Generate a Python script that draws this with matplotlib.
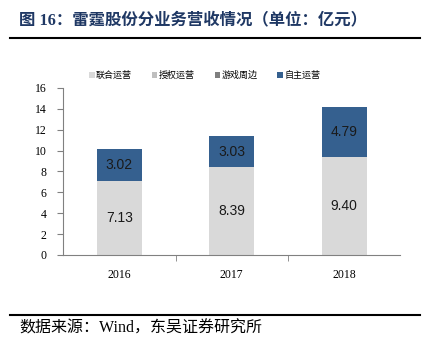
import matplotlib
matplotlib.use("Agg")
import matplotlib.pyplot as plt
import numpy as np

# data
years = ["2016", "2017", "2018"]
lianhe = [7.13, 8.39, 9.40]     # 联合运营
shouquan = [0.0, 0.0, 0.0]      # 授权运营
youxi = [0.0, 0.0, 0.0]         # 游戏周边
zizhu = [3.02, 3.03, 4.79]      # 自主运营
series_names = ["联合运营", "授权运营", "游戏周边", "自主运营"]
colors = ["#D9D9D9", "#BFBFBF", "#7F7F7F", "#35608F"]

cjk = ["Noto Sans CJK SC", "DejaVu Sans"]
serif_cjk = ["Liberation Serif", "Noto Sans CJK SC"]

fig = plt.figure(figsize=(4.26, 3.52), dpi=100)
ax = fig.add_axes([0.148, 0.2756, 0.792, 0.4744])

x = np.arange(len(years))
w = 0.4
bottom = np.zeros(len(years))
for vals, name, c in zip([lianhe, shouquan, youxi, zizhu], series_names, colors):
    ax.bar(x, vals, w, bottom=bottom, color=c, label=name, linewidth=0)
    bottom += np.array(vals)

# labels inside bars
for i in range(len(years)):
    ax.text(x[i], lianhe[i] / 2, f"{lianhe[i]:.2f}", ha="center", va="center",
            fontsize=10, family="Liberation Sans", color="#1a1a1a")
    ax.text(x[i], lianhe[i] + zizhu[i] / 2, f"{zizhu[i]:.2f}", ha="center", va="center",
            fontsize=10, family="Liberation Sans", color="#1a1a1a")

ax.set_xlim(-0.5, 2.5)
ax.set_ylim(0, 16)
ax.set_yticks(range(0, 17, 2))
ax.set_xticks(x)
ax.set_xticklabels(years)
ax.set_xticks([0.5, 1.5], minor=True)
ax.tick_params(axis="x", which="major", length=0, pad=10)
ax.tick_params(axis="x", which="minor", length=4, direction="out", color="#808080")
ax.tick_params(axis="y", length=4, direction="out", color="#808080", pad=8)
for lab in ax.get_xticklabels() + ax.get_yticklabels():
    lab.set_family("Liberation Serif")
    lab.set_fontsize(8.5)
for s in ["top", "right"]:
    ax.spines[s].set_visible(False)
ax.spines["left"].set_color("#808080")
ax.spines["bottom"].set_color("#808080")

leg = ax.legend(loc="lower center", bbox_to_anchor=(0.42, 1.0), ncol=4, frameon=False,
                prop={"family": cjk, "size": 6.5}, handlelength=0.6, handleheight=0.6,
                handletextpad=0.15, columnspacing=2.2)

# title and source
fig.text(0.045, 0.943, "图 16：雷霆股份分业务营收情况（单位：亿元）", family=serif_cjk,
         fontsize=11.8, fontweight="bold", color="#1F3864", va="center")
fig.add_artist(plt.Line2D([0.023, 0.987], [0.892, 0.892], color="black", lw=1.5))
fig.add_artist(plt.Line2D([0.023, 0.987], [0.105, 0.105], color="black", lw=1.5))
fig.text(0.045, 0.066, "数据来源：Wind，东吴证券研究所", family=serif_cjk,
         fontsize=11.5, color="black", va="center")

fig.savefig("out.png", dpi=100)
